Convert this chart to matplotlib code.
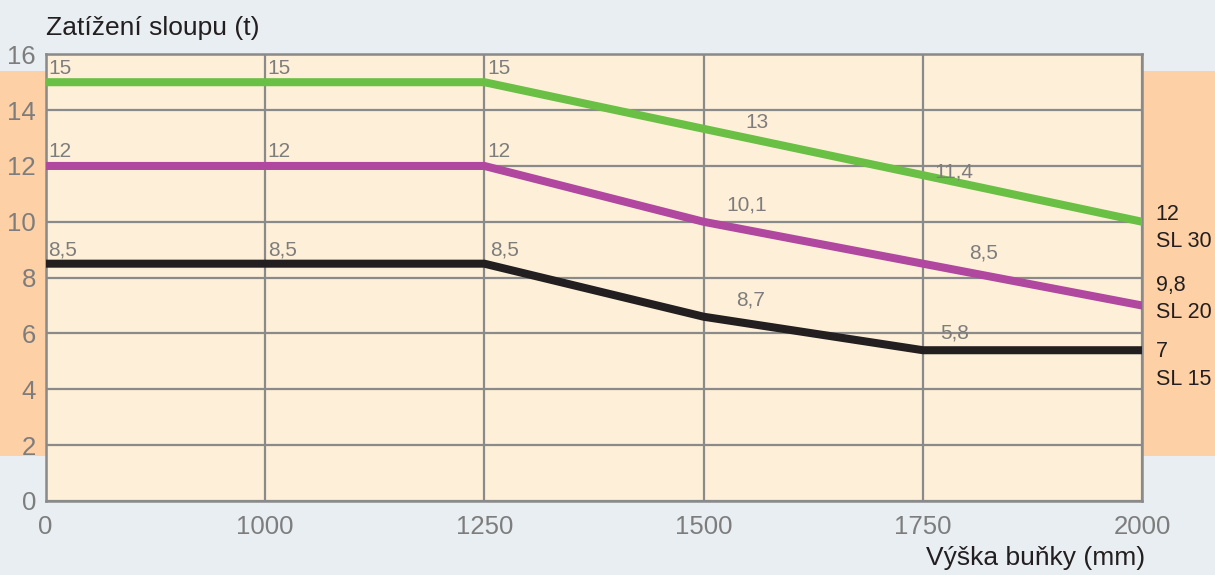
import matplotlib
matplotlib.use('Agg')
import matplotlib.pyplot as plt
import matplotlib.patches as patches

plt.rcParams['font.family'] = ['Liberation Sans', 'DejaVu Sans']

# data
heights = ['0', '1000', '1250', '1500', '1750', '2000']
sl30 = [15, 15, 15, 13.33, 11.67, 10]
sl20 = [12, 12, 12, 10, 8.5, 7]
sl15 = [8.5, 8.5, 8.5, 6.6, 5.4, 5.4]

# value labels drawn on the plot (text, position index, level)
labels_sl30 = ['15', '15', '15', '13', '11,4']
labels_sl20 = ['12', '12', '12', '10,1', '8,5']
labels_sl15 = ['8,5', '8,5', '8,5', '8,7', '5,8']
label_x = [0.012, 1.012, 2.012, 3.19, 4.05]
label_x_sl20 = [0.012, 1.012, 2.012, 3.105, 4.21]
label_x_sl15 = [0.012, 1.012, 2.025, 3.15, 4.08]
label_y30 = [15.5, 15.5, 15.5, 13.55, 11.8]
label_y20 = [12.5, 12.5, 12.5, 10.6, 8.9]
label_y15 = [9.0, 9.0, 9.0, 7.2, 6.0]
end_labels = [('12\nSL 30', 9.77), ('9,8\nSL 20', 7.23), ('7\nSL 15', 4.85)]

BG = '#e9eef2'
FACE = '#fef0d8'
BAND = '#fdd0a6'
GRID = '#8a8a8a'
TXT = '#7d7d7d'
DARK = '#231f20'


def main():
    fig = plt.figure(figsize=(12.15, 5.75), dpi=100)
    fig.patch.set_facecolor(BG)

    # orange side bands
    fig.patches.append(patches.Rectangle((0, 0.2075), 0.0376, 0.669, transform=fig.transFigure,
                                         facecolor=BAND, edgecolor='none', zorder=0))
    fig.patches.append(patches.Rectangle((0.9402, 0.2075), 0.0598, 0.669, transform=fig.transFigure,
                                         facecolor=BAND, edgecolor='none', zorder=0))

    ax = fig.add_axes([0.0376, 0.1287, 0.9026, 0.7769])
    ax.set_zorder(2)
    ax.set_facecolor(FACE)

    x = list(range(len(heights)))
    ax.plot(x, sl30, color='#6abf45', lw=5.8, solid_joinstyle='miter', zorder=3)
    ax.plot(x, sl20, color='#b0489f', lw=5.8, solid_joinstyle='miter', zorder=3)
    ax.plot(x, sl15, color=DARK, lw=5.8, solid_joinstyle='miter', zorder=3)

    for labs, xs, ys in [(labels_sl30, label_x, label_y30),
                         (labels_sl20, label_x_sl20, label_y20),
                         (labels_sl15, label_x_sl15, label_y15)]:
        for t, lx, ly in zip(labs, xs, ys):
            ax.text(lx, ly, t, color=TXT, fontsize=15, ha='left', va='center', zorder=4)

    for t, ly in end_labels:
        ax.text(5.06, ly, t, color=DARK, fontsize=15.5, ha='left', va='center',
                linespacing=1.4, clip_on=False)

    ax.set_xlim(0, 5)
    ax.set_ylim(0, 16)
    ax.set_xticks(x)
    ax.set_xticklabels(heights)
    ax.set_yticks(range(0, 17, 2))
    ax.tick_params(length=0, labelsize=18.5, labelcolor=TXT)
    ax.tick_params(axis='y', pad=7)
    ax.tick_params(axis='x', pad=10)
    ax.grid(True, color=GRID, lw=1.6, zorder=1)
    ax.set_axisbelow(True)
    for s in ax.spines.values():
        s.set_color(GRID)
        s.set_linewidth(1.8)

    fig.text(0.0376, 0.951, 'Zatížení sloupu (t)', fontsize=19, color=DARK, ha='left', va='center')
    fig.text(0.9425, 0.029, 'Výška buňky (mm)', fontsize=19, color=DARK, ha='right', va='center')

    fig.savefig('out.png', dpi=100, facecolor=BG)
    plt.close(fig)


if __name__ == '__main__':
    main()
